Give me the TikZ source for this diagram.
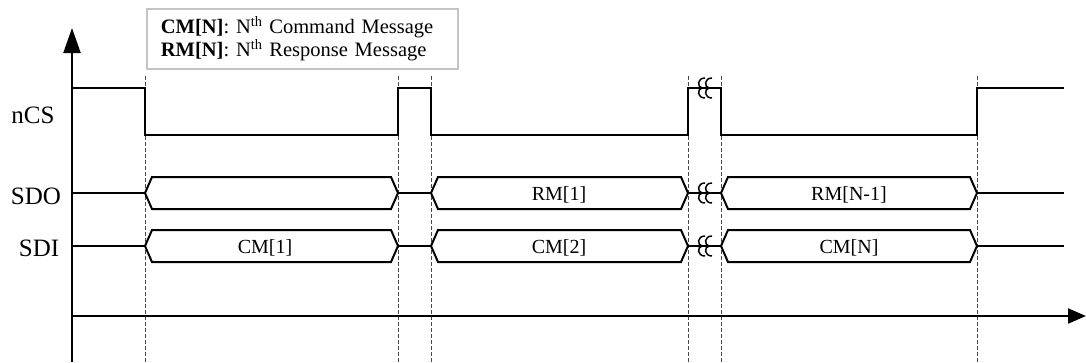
\documentclass[tikz,border=0pt]{standalone}
\usepackage{fontspec}
\setmainfont{Liberation Serif}
\usetikzlibrary{arrows.meta}
\definecolor{cInk}{HTML}{000000}
\definecolor{cDash}{HTML}{4A4A4A}
\definecolor{cKey}{HTML}{C4C4C4}
\tikzset{
  sig/.style  ={line width=2pt,cInk,line join=miter},
  axis/.style ={line width=2.2pt,cInk},
  guide/.style={cDash,line width=0.9pt,dash pattern=on 4pt off 2pt},
  brk/.style  ={line width=1.5pt,cInk},
  sname/.style={font=\fontsize{25}{25}\selectfont,anchor=base},
  blbl/.style ={font=\fontsize{20}{20}\selectfont,anchor=base},
  key/.style  ={draw=cKey,line width=1.8pt,fill=white,align=left,anchor=north west,
                minimum width=311pt,minimum height=60pt,text width=283pt,inner xsep=14pt,
                font=\fontsize{20.5}{17}\selectfont},
}
\begin{document}
\begin{tikzpicture}[x=1pt,y=-1pt]
\useasboundingbox (0,0) rectangle (1086,362);
% guide lines at every edge of nCS
\foreach \x in {145,398,431,688,721,977}{\draw[guide] (\x,76) -- (\x,362);}
% axes
\draw[axis,-{Triangle[length=25pt,width=17pt]}] (72,362) -- (72,28);
\draw[axis,-{Triangle[length=18pt,width=15pt]}] (72,316) -- (1086,316);
% signal names
\node[sname] (ncs) at (33,123) {nCS};
\node[sname] (sdo) at (36,204) {SDO};
\node[sname] (sdi) at (39,256) {SDI};
% chip select
\draw[sig] (72,88) -- (145,88) -- (145,135) -- (398,135) -- (398,88) -- (431,88)
   -- (431,135) -- (688,135) -- (688,88) -- (721,88) -- (721,135) -- (977,135)
   -- (977,88) -- (1064,88);
% data lines: idle parts
\foreach \y in {193,246}{
  \draw[sig] (72,\y) -- (145,\y);
  \draw[sig] (398,\y) -- (431,\y);
  \draw[sig] (688,\y) -- (721,\y);
  \draw[sig] (977,\y) -- (1064,\y);
  % message frames
  \foreach \a/\b in {145/398,431/688,721/977}{
    \draw[sig] (\a,\y) -- (\a+7,\y-16) -- (\b-7,\y-16) -- (\b,\y) -- (\b-7,\y+16)
       -- (\a+7,\y+16) -- cycle;
  }
}
% time breaks
\foreach \y in {88,193,246}{
  \foreach \x in {700,707}{
    \draw[brk] (\x+5,\y-10) .. controls (\x-3,\y-10) and (\x-3,\y-1) .. (\x+2,\y)
       .. controls (\x-3,\y+1) and (\x-3,\y+10) .. (\x+5,\y+10);
  }
}
% message labels
\node[blbl] (rm1)  at (559,200) {RM[1]};
\node[blbl] (rmn1) at (849,200) {RM[N-1]};
\node[blbl] (cm1)  at (265,253) {CM[1]};
\node[blbl] (cm2)  at (559,253) {CM[2]};
\node[blbl] (cmn)  at (849,253) {CM[N]};
% legend
\node[key] (legend) at (146,8) {\textbf{CM[N]}: N\textsuperscript{th} Command Message\\
  \textbf{RM[N]}: N\textsuperscript{th} Response Message};
\end{tikzpicture}
\end{document}
